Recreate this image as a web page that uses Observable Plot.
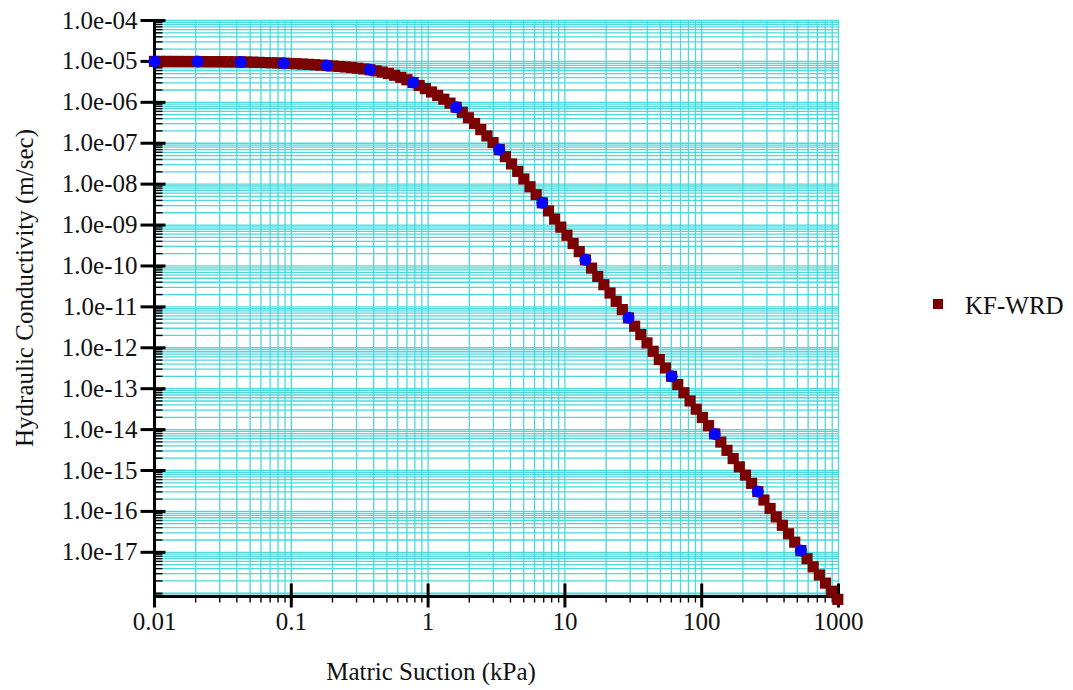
<!DOCTYPE html>
<html><head><meta charset="utf-8">
<script src="https://cdn.jsdelivr.net/npm/d3@7"></script>
<script src="https://cdn.jsdelivr.net/npm/@observablehq/plot@0.6"></script>
<style>
body{margin:0;background:#fff;}
#wrap{position:relative;width:1073px;height:690px;font-family:"Liberation Serif","DejaVu Serif","Noto Serif",serif;color:#111;overflow:hidden;}
.lab{position:absolute;font-size:25px;line-height:25px;white-space:nowrap;font-family:"Liberation Serif","DejaVu Serif","Noto Serif",serif;}
#wrap svg{position:absolute;left:0;top:0;}
#wrap svg text{font-family:"Liberation Serif","DejaVu Serif","Noto Serif",serif;}
</style></head><body>
<div id="wrap"></div>
<script>
// ---- data (log10 of the values) ----
const suctionLog10 = [
-2.000,-1.955,-1.910,-1.865,-1.820,-1.775,-1.730,-1.685,-1.640,-1.595,-1.550,-1.505,-1.460,-1.415,-1.370,-1.325,
-1.280,-1.235,-1.190,-1.145,-1.100,-1.055,-1.010,-0.965,-0.920,-0.875,-0.830,-0.785,-0.740,-0.695,-0.650,-0.605,
-0.560,-0.515,-0.470,-0.425,-0.380,-0.335,-0.290,-0.245,-0.200,-0.155,-0.110,-0.065,-0.020,0.025,0.070,0.115,
0.160,0.205,0.250,0.295,0.340,0.385,0.430,0.475,0.520,0.565,0.610,0.655,0.700,0.745,0.790,0.835,
0.880,0.925,0.970,1.015,1.060,1.105,1.150,1.195,1.240,1.285,1.330,1.375,1.420,1.465,1.510,1.555,
1.600,1.645,1.690,1.735,1.780,1.825,1.870,1.915,1.960,2.005,2.050,2.095,2.140,2.185,2.230,2.275,
2.320,2.365,2.410,2.455,2.500,2.545,2.590,2.635,2.680,2.725,2.770,2.815,2.860,2.905,2.950,2.995];
const conductivityLog10 = [
-5.000,-5.000,-5.000,-5.001,-5.001,-5.002,-5.002,-5.003,-5.004,-5.005,-5.006,-5.007,-5.009,-5.010,-5.012,-5.015,
-5.019,-5.023,-5.028,-5.033,-5.038,-5.044,-5.050,-5.057,-5.064,-5.072,-5.081,-5.090,-5.100,-5.111,-5.123,-5.136,
-5.150,-5.166,-5.184,-5.205,-5.230,-5.260,-5.296,-5.339,-5.389,-5.448,-5.516,-5.588,-5.665,-5.747,-5.833,-5.924,
-6.020,-6.120,-6.245,-6.378,-6.519,-6.667,-6.822,-6.985,-7.154,-7.328,-7.506,-7.688,-7.874,-8.064,-8.258,-8.457,
-8.654,-8.852,-9.051,-9.250,-9.450,-9.650,-9.851,-10.053,-10.255,-10.458,-10.661,-10.864,-11.066,-11.269,-11.473,-11.677,
-11.881,-12.085,-12.289,-12.493,-12.697,-12.898,-13.099,-13.300,-13.501,-13.702,-13.903,-14.105,-14.306,-14.507,-14.709,-14.911,
-15.113,-15.314,-15.516,-15.722,-15.928,-16.134,-16.340,-16.546,-16.752,-16.958,-17.157,-17.355,-17.554,-17.753,-17.951,-18.150];
const markerSuctionLog10 = [-2.000,-1.685,-1.370,-1.055,-0.740,-0.425,-0.110,0.205,0.520,0.835,1.150,1.465,1.780,2.095,2.410,2.725];
const markerConductivityLog10 = [-5.000,-5.003,-5.012,-5.044,-5.100,-5.205,-5.516,-6.120,-7.154,-8.457,-9.851,-11.269,-12.697,-14.105,-15.516,-16.958];

const xTicks = [0.01, 0.1, 1, 10, 100, 1000];
const xTickLabels = ["0.01", "0.1", "1", "10", "100", "1000"];
const yTicks = [1e-4,1e-5,1e-6,1e-7,1e-8,1e-9,1e-10,1e-11,1e-12,1e-13,1e-14,1e-15,1e-16,1e-17];
const yTickLabels = ["1.0e-04","1.0e-05","1.0e-06","1.0e-07","1.0e-08","1.0e-09","1.0e-10","1.0e-11","1.0e-12","1.0e-13","1.0e-14","1.0e-15","1.0e-16","1.0e-17"];
const seriesName = "KF-WRD";
const xTitle = "Matric Suction (kPa)";
const yTitle = "Hydraulic Conductivity (m/sec)";

// ---- build ----
const curve = suctionLog10.map((s, i) => ({suction: 10 ** s, k: 10 ** conductivityLog10[i]}));
const markers = markerSuctionLog10.map((s, i) => ({suction: 10 ** s, k: 10 ** markerConductivityLog10[i]}));

const xMin = 0.01, xMax = 1000;
const yMin = 10 ** -18.08, yMax = 1e-4;

const xGrid = [];
for (let e = -2; e <= 2; e++) for (let k = 1; k <= 9; k++) xGrid.push(k * 10 ** e);
xGrid.push(1000);
const xMinor = xGrid.filter(v => !xTicks.some(t => Math.abs(t - v) / t < 1e-9));
const yGrid = [];
for (let e = -19; e <= -5; e++) for (let k = 1; k <= 9; k++) { const v = k * 10 ** e; if (v >= yMin && v <= yMax) yGrid.push(v); }
yGrid.push(1e-4);
const yMinor = yGrid.filter(v => !yTicks.some(t => Math.abs(t - v) / t < 1e-9));

const seg = (x1, y1, x2, y2) => ({draw(ctx) { ctx.moveTo(x1, y1); ctx.lineTo(x2, y2); }});
const gridColor = "#4dd8dc";
const brown = "#7b0000";
const serif = "'Liberation Serif','DejaVu Serif','Noto Serif',serif";

const plot = Plot.plot({
  width: 1073, height: 690,
  marginLeft: 154, marginRight: 235, marginTop: 20, marginBottom: 94,
  style: {fontFamily: serif, fontSize: "25px", color: "#111", background: "transparent"},
  x: {type: "log", domain: [xMin, xMax]},
  y: {type: "log", domain: [yMin, yMax]},
  marks: [
    Plot.ruleX(xGrid, {stroke: gridColor, strokeWidth: 1.3}),
    Plot.ruleY(yGrid, {stroke: gridColor, strokeWidth: 1.3}),
    Plot.ruleX([xMin], {stroke: "#000", strokeWidth: 3}),
    Plot.ruleY([yMin], {stroke: "#000", strokeWidth: 3}),
    Plot.dot(yMinor, {y: d => d, frameAnchor: "left", symbol: seg(-1, 0, 8, 0), stroke: "#000", strokeWidth: 1.4, fill: "none"}),
    Plot.dot(yTicks, {y: d => d, frameAnchor: "left", symbol: seg(-14, 0, 11, 0), stroke: "#000", strokeWidth: 3, fill: "none"}),
    Plot.dot(xMinor, {x: d => d, frameAnchor: "bottom", symbol: seg(0, 0, 0, 6), stroke: "#000", strokeWidth: 1.4, fill: "none"}),
    Plot.dot(xTicks, {x: d => d, frameAnchor: "bottom", symbol: seg(0, -13, 0, 11), stroke: "#000", strokeWidth: 3, fill: "none"}),
    Plot.axisY({ticks: yTicks, tickSize: 0, tickPadding: 17, tickFormat: d => yTickLabels[yTicks.indexOf(d)], label: null, fontSize: 25, fill: "#111"}),
    Plot.axisX({ticks: xTicks, tickSize: 0, tickPadding: 16, tickFormat: d => xTickLabels[xTicks.indexOf(d)], label: null, fontSize: 25, fill: "#111"}),
    Plot.dot(curve, {x: "suction", y: "k", symbol: "square", r: 6.3, fill: brown, stroke: "none"}),
    Plot.dot(markers, {x: "suction", y: "k", symbol: "circle", r: 6, fill: "#0505ff", stroke: "none"})
  ]
});

const wrap = document.getElementById("wrap");
wrap.appendChild(plot);

function addLabel(text, css) {
  const d = document.createElement("div");
  d.className = "lab";
  d.textContent = text;
  Object.assign(d.style, css);
  wrap.appendChild(d);
  return d;
}
addLabel(xTitle, {left: "431px", top: "659px", transform: "translateX(-50%)"});
addLabel(yTitle, {left: "24px", top: "288px", transform: "translate(-50%,-50%) rotate(-90deg)"});
const sw = document.createElement("div");
Object.assign(sw.style, {position: "absolute", left: "933px", top: "299px", width: "10px", height: "10px", background: brown});
wrap.appendChild(sw);
addLabel(seriesName, {left: "965px", top: "293px"});
</script>
</body></html>
